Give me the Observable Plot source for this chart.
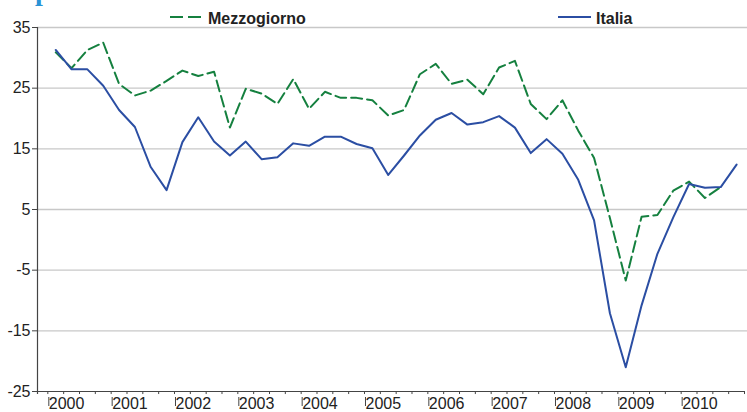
<!DOCTYPE html>
<html>
<head>
<meta charset="utf-8">
<script src="https://cdn.jsdelivr.net/npm/d3@7"></script>
<script src="https://cdn.jsdelivr.net/npm/@observablehq/plot@0.6"></script>
<style>
  html, body { margin: 0; padding: 0; background: #fff; }
  #chart svg { display: block; }
</style>
</head>
<body>
<div id="chart"></div>
<script>
// Years on the category axis (each with four quarters)
const years = [2000, 2001, 2002, 2003, 2004, 2005, 2006, 2007, 2008, 2009, 2010];
const yTicks = [35, 25, 15, 5, -5, -15, -25];

// Quarterly values, 2000 Q1 -> 2010 Q4
const italia = [
  31.3, 28.1, 28.1, 25.4,
  21.4, 18.6, 12.0, 8.2,
  16.1, 20.2, 16.2, 13.9,
  16.2, 13.3, 13.6, 15.9,
  15.5, 17.0, 17.0, 15.8,
  15.1, 10.7, 13.9, 17.2,
  19.8, 20.9, 19.0, 19.4,
  20.4, 18.5, 14.3, 16.6,
  14.2, 9.9, 3.2, -12.1,
  -21.0, -10.8, -2.3, 3.7,
  9.2, 8.6, 8.7, 12.4
];
// Mezzogiorno ends at 2010 Q3
const mezzogiorno = [
  30.9, 28.3, 31.3, 32.5,
  25.7, 23.8, 24.6, 26.2,
  27.9, 27.0, 27.7, 18.5,
  24.9, 24.1, 22.4, 26.5,
  21.6, 24.4, 23.4, 23.4,
  23.0, 20.5, 21.4, 27.3,
  29.0, 25.7, 26.4, 24.0,
  28.4, 29.5, 22.4, 19.9,
  23.0, 18.0, 13.5, 3.6,
  -6.7, 3.8, 4.1, 8.1,
  9.6, 6.9, 8.7
];

const xOf = i => years[0] + Math.floor(i / 4) + (i % 4) / 4 + 0.125;
const rows = [
  ...mezzogiorno.map((v, i) => ({x: xOf(i), v, s: "Mezzogiorno"})),
  ...italia.map((v, i) => ({x: xOf(i), v, s: "Italia"}))
];

const BLUE = "#2b4ea3";
const GREEN = "#15803f";
const X0 = 1999.837, X1 = 2011;
const quarterTicks = d3.range(0, 45).map(k => years[0] + k / 4);

const plot = Plot.plot({
  width: 747,
  height: 412,
  marginLeft: 37,
  marginRight: 3,
  marginTop: 27,
  marginBottom: 21,
  style: {fontFamily: "'Liberation Sans', Arial, sans-serif", color: "#222", background: "#fff"},
  x: {domain: [X0, X1], axis: null},
  y: {domain: [-25, 35], axis: null},
  marks: [
    Plot.ruleY(yTicks.filter(d => d > -25), {x1: X0, x2: X1 + 0.05, stroke: "#c8c8c8", strokeWidth: 1.4}),
    Plot.axisY({ticks: yTicks, tickSize: 5, tickPadding: 2, fontSize: 16, stroke: "#444", label: null, tickFormat: d => String(d)}),
    Plot.ruleX([X0], {y1: -25.5, y2: 35, stroke: "#444", strokeWidth: 1.2}),
    Plot.ruleY([-25], {x1: X0 - 0.06, x2: X1, stroke: "#444", strokeWidth: 1.2}),
    Plot.ruleX(quarterTicks, {y1: -25, y2: -25.5, stroke: "#444", strokeWidth: 1}),
    Plot.axisX({ticks: years, tickSize: 9, tickPadding: -9, fontSize: 16, stroke: "#444", label: null, tickFormat: d => String(d), textAnchor: "start", dx: 1, dy: 6}),
    Plot.line(rows.filter(d => d.s === "Mezzogiorno"), {x: "x", y: "v", stroke: GREEN, strokeWidth: 2, strokeDasharray: "11,5"}),
    Plot.line(rows.filter(d => d.s === "Italia"), {x: "x", y: "v", stroke: BLUE, strokeWidth: 2})
  ]
});

const svg = d3.select(plot);
// cut-off title at the top
svg.append("text").attr("x", 35).attr("y", 0).attr("text-anchor", "start")
  .attr("font-family", "'Liberation Serif', serif").attr("font-weight", "bold")
  .attr("font-size", 28).attr("fill", "#2a93d5").text("produzione");
// legend
const leg = [
  {label: "Mezzogiorno", x: 170, color: GREEN, dash: "13,5"},
  {label: "Italia", x: 558, color: BLUE, dash: null}
];
leg.forEach(d => {
  const l = svg.append("line").attr("x1", d.x).attr("x2", d.x + 33).attr("y1", 17).attr("y2", 17)
    .attr("stroke", d.color).attr("stroke-width", 2);
  if (d.dash) l.attr("stroke-dasharray", d.dash);
  svg.append("text").attr("x", d.x + 38).attr("y", 23.5).attr("text-anchor", "start")
    .attr("font-family", "'Liberation Sans', Arial, sans-serif").attr("font-weight", "bold")
    .attr("font-size", 16).attr("fill", "#222").text(d.label);
});

document.getElementById("chart").append(plot);
</script>
</body>
</html>
